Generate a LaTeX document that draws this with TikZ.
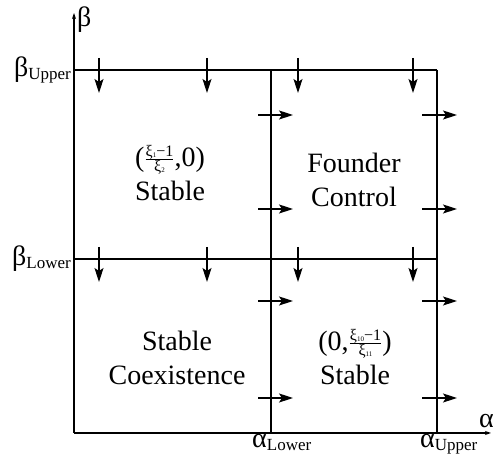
\documentclass[tikz,border=0pt]{standalone}
\usepackage{fontspec}
\setmainfont{Liberation Serif}
\usetikzlibrary{arrows.meta}
\newcommand{\idx}[1]{\raisebox{-3pt}{\fontsize{17}{17}\selectfont #1}}
\newcommand{\tidx}[1]{\raisebox{-1.5pt}{\fontsize{7}{7}\selectfont #1}}
\newcommand{\ratio}[2]{\raisebox{3pt}{\fontsize{16}{16}\selectfont${\mbox{#1}\over\mbox{#2}}$}}

\begin{document}
\begin{tikzpicture}[
  x=1pt, y=1pt,
  font=\fontsize{28}{34}\selectfont,
  axis/.style={line width=1.2pt, -{Stealth[length=6pt,width=4pt]}},
  bound/.style={line width=1.8pt},
  flow/.style={line width=1.3pt, -{Stealth[length=14pt,width=9pt,inset=3pt]}},
  region/.style={align=center, inner sep=0pt},
  lbl/.style={inner sep=0pt},
]
\useasboundingbox (0,0) rectangle (493,462);

% ===================== axes =====================
\coordinate (O)    at (74,29);
\coordinate (xend) at (491,29);
\coordinate (yend) at (74,449);
\draw[axis] (O) -- (xend);
\draw[axis] (O) -- (yend);

\node[lbl, anchor=base west] (beta)  at (77,435) {β};
\node[lbl, anchor=base west] (alpha) at (479,34) {α};

% ===================== thresholds =====================
\coordinate (upL) at (74,392);
\coordinate (upR) at (437,392);
\coordinate (loL) at (74,203);
\coordinate (loR) at (437,203);
\coordinate (aLt) at (271,392);
\coordinate (aLb) at (271,29);
\coordinate (aUt) at (437,392);
\coordinate (aUb) at (437,29);

\draw[bound] (upL) -- (upR);
\draw[bound] (loL) -- (loR);
\draw[bound] (aLt) -- (aLb);
\draw[bound] (aUt) -- (aUb);

\node[lbl, anchor=base east] (bup) at (71,385) {β\idx{Upper}};
\node[lbl, anchor=base east] (blo) at (71,196) {β\idx{Lower}};
\node[lbl, anchor=base west] (alo) at (252,14) {α\idx{Lower}};
\node[lbl, anchor=base west] (aup) at (420,14) {α\idx{Upper}};

% ===================== flow directions =====================
\draw[flow] (99,404)  -- ++(0,-35);
\draw[flow] (207,404) -- ++(0,-35);
\draw[flow] (298,404) -- ++(0,-35);
\draw[flow] (413,404) -- ++(0,-35);
\draw[flow] (99,215)  -- ++(0,-35);
\draw[flow] (207,215) -- ++(0,-35);
\draw[flow] (298,215) -- ++(0,-35);
\draw[flow] (413,215) -- ++(0,-35);

\draw[flow] (258,347) -- ++(35,0);
\draw[flow] (258,253) -- ++(35,0);
\draw[flow] (258,161) -- ++(35,0);
\draw[flow] (258,64)  -- ++(35,0);
\draw[flow] (422,347) -- ++(35,0);
\draw[flow] (422,253) -- ++(35,0);
\draw[flow] (422,161) -- ++(35,0);
\draw[flow] (422,64)  -- ++(35,0);

% ===================== regions =====================
\node[region] (alphaonly) at (170,289) {(\ratio{ξ\tidx{1}−1}{ξ\tidx{2}},0)\\Stable};
\node[region] (founder)   at (354,282) {Founder\\Control};
\node[region] (coexist)   at (177,104) {Stable\\Coexistence};
\node[region] (betaonly)  at (355,105) {(0,\ratio{ξ\tidx{10}−1}{ξ\tidx{11}})\\Stable};

\end{tikzpicture}
\end{document}
